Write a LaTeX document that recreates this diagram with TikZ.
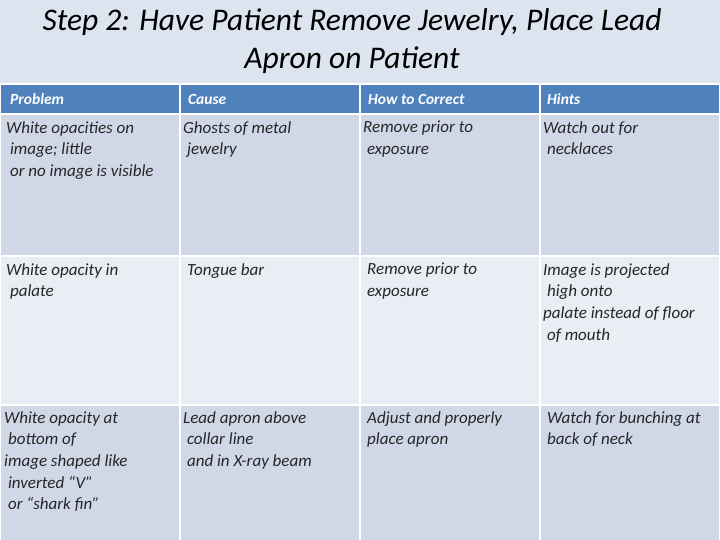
\documentclass[tikz,border=0pt]{standalone}
\usepackage{fontspec}
\setmainfont{Carlito}
\begin{document}
\begin{tikzpicture}[x=1pt,y=-1pt,
  hdr/.style={fill=hblue,draw=white,line width=2pt},
  dark/.style={fill=cdark,draw=white,line width=2pt},
  light/.style={fill=clight,draw=white,line width=2pt},
  htxt/.style={anchor=west,text=white,font=\fontsize{15.5}{17}\selectfont\itshape\bfseries,inner sep=0pt},
  ctxt/.style={anchor=north west,align=left,font=\fontsize{17}{21.7}\selectfont\itshape,text=black!85,inner sep=0pt}]
\definecolor{bg}{HTML}{DCE4EF}
\definecolor{hblue}{HTML}{4F81BD}
\definecolor{cdark}{HTML}{D0D8E8}
\definecolor{clight}{HTML}{E9EDF4}
\fill[bg] (0,0) rectangle (720,540);
\useasboundingbox (0,0) rectangle (720,540);
\node[anchor=north,align=center,font=\fontsize{31.5}{38}\selectfont\itshape,inner sep=0pt] (title) at (352,8) {Step 2: Have Patient Remove Jewelry, Place Lead\\Apron on Patient};
\foreach \xa/\xb [count=\i] in {0/180,180/360,360/540,540/720}{
  \path[hdr] (\xa,84) rectangle (\xb,114);
  \path[dark] (\xa,114) rectangle (\xb,256);
  \path[light] (\xa,256) rectangle (\xb,405);
  \path[dark] (\xa,405) rectangle (\xb,542);
}
\node[htxt] (h1) at (10,99) {Problem};
\node[htxt] (h2) at (188,99) {Cause};
\node[htxt] (h3) at (368,99) {How to Correct};
\node[htxt] (h4) at (547,99) {Hints};
\node[ctxt] (a1) at (6,121) {White opacities on\\\ image; little\\\ or no image is visible};
\node[ctxt] (a2) at (183,121) {Ghosts of metal\\\ jewelry};
\node[ctxt] (a3) at (363,121) {Remove prior to\\\ exposure};
\node[ctxt] (a4) at (543,121) {Watch out for\\\ necklaces};
\node[ctxt] (b1) at (6,263) {White opacity in\\\ palate};
\node[ctxt] (b2) at (187,263) {Tongue bar};
\node[ctxt] (b3) at (367,263) {Remove prior to\\exposure};
\node[ctxt] (b4) at (543,263) {Image is projected\\\ high onto\\palate instead of floor\\\ of mouth};
\node[ctxt] (c1) at (4,411) {White opacity at\\\ bottom of\\image shaped like\\\ inverted “V”\\\ or “shark fin”};
\node[ctxt] (c2) at (183,411) {Lead apron above\\\ collar line\\\ and in X-ray beam};
\node[ctxt] (c3) at (367,411) {Adjust and properly\\place apron};
\node[ctxt] (c4) at (547,411) {Watch for bunching at\\back of neck};
\end{tikzpicture}
\end{document}
